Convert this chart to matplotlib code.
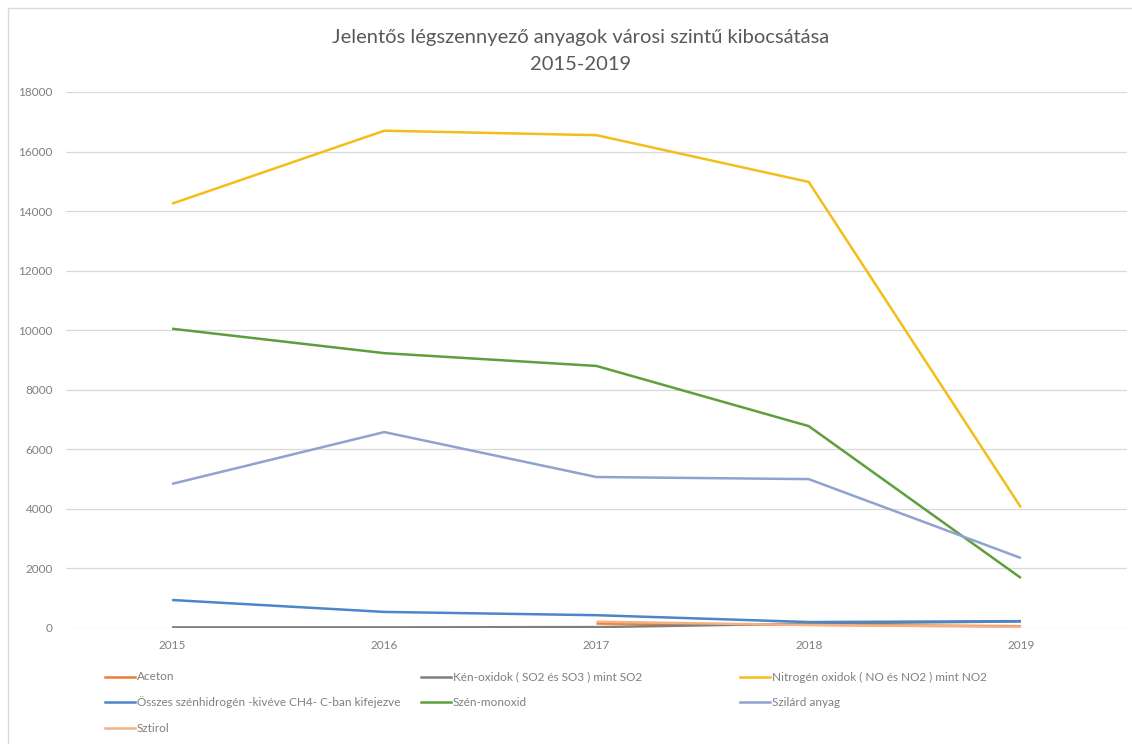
import matplotlib
matplotlib.use("Agg")
import matplotlib.pyplot as plt
from matplotlib.patches import Rectangle
from matplotlib.lines import Line2D
import numpy as np

plt.rcParams['font.family'] = ['Lato', 'DejaVu Sans']

years = ["2015", "2016", "2017", "2018", "2019"]
aceton = [np.nan, np.nan, 150, 110, 60]
ken_oxidok = [20, 20, 30, 150, 220]
nitrogen_oxidok = [14250, 16700, 16550, 14980, 4050]
szenhidrogen = [940, 540, 430, 200, 230]
szen_monoxid = [10050, 9230, 8800, 6780, 1680]
szilard = [4840, 6580, 5070, 5000, 2350]
sztirol = [np.nan, np.nan, 210, 100, 40]

names = ["Aceton", "Kén-oxidok ( SO2 és SO3 ) mint SO2", "Nitrogén oxidok ( NO és NO2 ) mint NO2",
         "Összes szénhidrogén -kivéve CH4- C-ban kifejezve", "Szén-monoxid", "Szilárd anyag", "Sztirol"]
series = [aceton, ken_oxidok, nitrogen_oxidok, szenhidrogen, szen_monoxid, szilard, sztirol]
colors = ["#ED7D31", "#7F7F7F", "#F2BE1A", "#4A86C8", "#5E9E3C", "#8FA3D0", "#F4B183"]
yticks = list(range(0, 18001, 2000))

W, H = 1132, 744
fig = plt.figure(figsize=(W/100, H/100), dpi=100)
fig.patches.append(Rectangle((8/W, -0.05), 1.2, (H-8)/H + 0.05, transform=fig.transFigure,
                             fill=False, edgecolor="#D9D9D9", linewidth=1.0))

ax = fig.add_axes([66/W, 1-628/H, (1127-66)/W, (628-92)/H])
x = np.arange(len(years))
for i in range(len(series)):
    ax.plot(x, series[i], color=colors[i], linewidth=1.8, zorder=3+i, solid_capstyle='butt')

ax.set_xlim(-0.5, 4.5)
ax.set_ylim(0, 18000)
ax.set_yticks(yticks)
ax.set_yticklabels([str(v) for v in yticks], fontsize=8.5, color="#7F7F7F")
ax.set_xticks(x)
ax.set_xticklabels(years, fontsize=8.5, color="#7F7F7F")
ax.tick_params(axis='y', length=0, pad=9.5)
ax.tick_params(axis='x', length=0, pad=8.5)
ax.grid(axis='y', color="#D9D9D9", linewidth=0.9)
ax.set_axisbelow(True)
for s in ax.spines.values():
    s.set_visible(False)

fig.text(581/W, 1-38/H, "Jelentős légszennyező anyagok városi szintű kibocsátása",
         ha='center', va='center', fontsize=14.5, color="#595959")
fig.text(581/W, 1-64/H, "2015-2019", ha='center', va='center', fontsize=14.5, color="#595959")

# legend (manual, fixed columns like Excel)
col_x = [105, 421, 740]
row_y = [677, 702, 728]
for k, (name, c) in enumerate(zip(names, colors)):
    r, cidx = divmod(k, 3)
    x0 = col_x[cidx]
    yy = 1 - row_y[r]/H
    fig.add_artist(Line2D([x0/W, (x0+30)/W], [yy, yy], transform=fig.transFigure,
                          color=c, linewidth=1.8))
    fig.text((x0+32)/W, yy, name, ha='left', va='center', fontsize=8.5, color="#7F7F7F")

fig.savefig("out.png", dpi=100)
